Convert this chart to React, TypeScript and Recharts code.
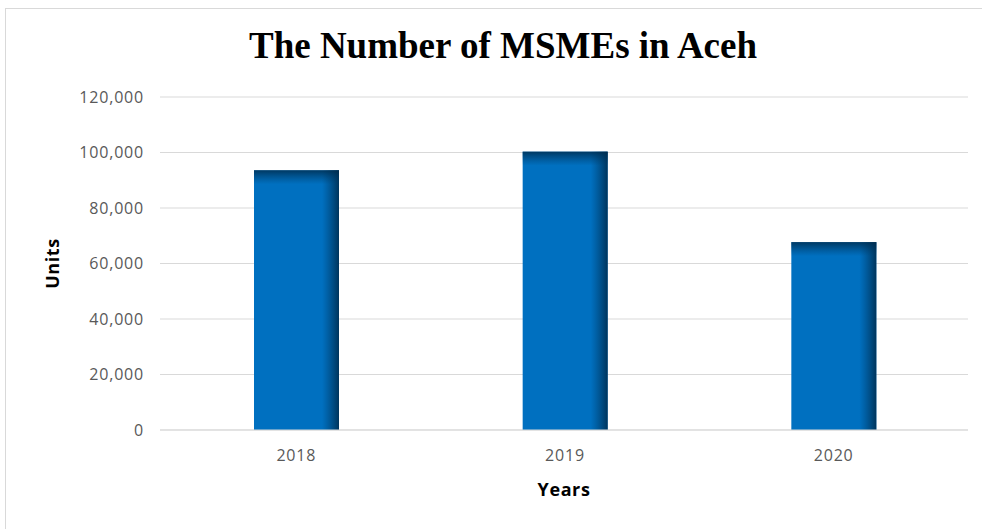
import React from 'react';
import { BarChart, Bar, XAxis, YAxis, CartesianGrid } from 'recharts';

const years = ['2018', '2019', '2020'];
const units = [93600, 100300, 67700];
const yTicks = [0, 20000, 40000, 60000, 80000, 100000, 120000];

const data = years.map((y, i) => ({ year: y, units: units[i] }));

const BarShape = (props: any) => {
  const { x, y, width, height } = props;
  return (
    <g>
      <rect x={x} y={y} width={width} height={height} fill="#0070c0" />
      <rect x={x} y={y} width={width} height={height} fill="url(#gradH)" />
      <rect x={x} y={y} width={width} height={Math.min(14, height)} fill="url(#gradV)" />
    </g>
  );
};

const UnitsLabel = (props: any) => {
  const vb = props.viewBox || {};
  const cy = vb.y + vb.height / 2;
  return (
    <text x={58} y={cy} transform={`rotate(-90, 58, ${cy})`} textAnchor="middle"
      fontFamily="Open Sans, sans-serif" fontWeight="bold" fontSize={18} letterSpacing={0.6} fill="#000">
      Units
    </text>
  );
};

const tickStyle = { fill: '#595959', fontSize: 16, fontFamily: 'Open Sans, sans-serif', letterSpacing: 0.8 };

export default function App() {
  return (
    <div style={{ position: 'absolute', left: 0, top: 0, width: 982, height: 529, background: '#fff', overflow: 'hidden' }}>
      <div style={{ position: 'absolute', left: 5, top: 8, width: 1000, height: 540, border: '1px solid #d9d9d9', boxSizing: 'border-box' }} />
      <div style={{ position: 'absolute', left: 0, top: 24, width: 1006, textAlign: 'center', fontFamily: 'Liberation Serif, serif', fontWeight: 'bold', fontSize: 37, color: '#000' }}>
        The Number of MSMEs in Aceh
      </div>
      <div style={{ position: 'absolute', left: 1, top: 0 }}>
        <BarChart width={982} height={529} data={data} margin={{ top: 97, right: 15, bottom: 69, left: 0 }} barSize={85}>
          <defs>
            <linearGradient id="gradH" x1="0" y1="0" x2="1" y2="0">
              <stop offset="0" stopColor="#003a66" stopOpacity={0} />
              <stop offset="0.8" stopColor="#003a66" stopOpacity={0} />
              <stop offset="1" stopColor="#002a4a" stopOpacity={0.85} />
            </linearGradient>
            <linearGradient id="gradV" x1="0" y1="0" x2="0" y2="1">
              <stop offset="0" stopColor="#002a4a" stopOpacity={0.8} />
              <stop offset="1" stopColor="#003a66" stopOpacity={0} />
            </linearGradient>
          </defs>
          <CartesianGrid vertical={false} stroke="#d9d9d9" />
          <XAxis dataKey="year" axisLine={{ stroke: '#d9d9d9' }} tickLine={false} tickSize={0} tickMargin={20}
            padding={{ left: 2, right: 0 }}
            tick={tickStyle}
            label={{ value: 'Years', position: 'bottom', offset: 23, fill: '#000', fontSize: 18, fontWeight: 'bold', letterSpacing: 0.6, fontFamily: 'Open Sans, sans-serif' }} />
          <YAxis width={159} domain={[0, 120000]} ticks={yTicks} axisLine={false} tickLine={false} tickSize={0} tickMargin={16}
            tickFormatter={(v: number) => v.toLocaleString('en-US')}
            tick={tickStyle}
            label={<UnitsLabel />} />
          <Bar dataKey="units" shape={<BarShape />} isAnimationActive={false} />
        </BarChart>
      </div>
    </div>
  );
}
